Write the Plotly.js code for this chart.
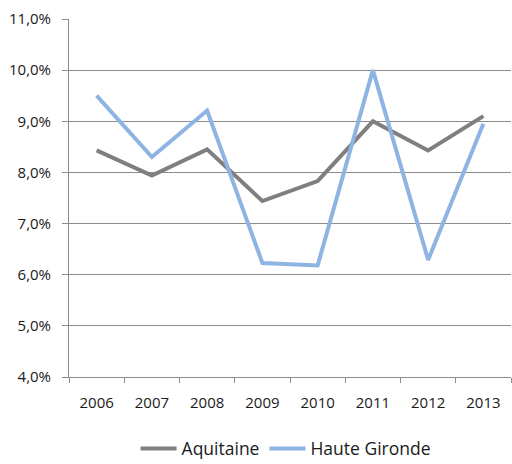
<!DOCTYPE html>
<html>
<head>
<meta charset="utf-8">
<script src="https://cdn.plot.ly/plotly-3.0.1.min.js"></script>
<style>html,body{margin:0;padding:0;background:#fff;}#chart{width:512px;height:464px;}</style>
</head>
<body>
<div id="chart"></div>
<script>
var years = ['2006','2007','2008','2009','2010','2011','2012','2013'];
var aquitaine = [8.43, 7.94, 8.45, 7.44, 7.83, 9.00, 8.43, 9.10];
var hauteGironde = [9.50, 8.30, 9.21, 6.23, 6.18, 10.0, 6.29, 8.95];
var seriesNames = ['Aquitaine', 'Haute Gironde'];

var traces = [
  {x: years, y: aquitaine, name: seriesNames[0], type: 'scatter', mode: 'lines',
   line: {color: '#7f7f7f', width: 4}},
  {x: years, y: hauteGironde, name: seriesNames[1], type: 'scatter', mode: 'lines',
   line: {color: '#8db4e2', width: 4}}
];

var layout = {
  width: 512, height: 464,
  margin: {l: 69, r: 1, t: 19, b: 87, autoexpand: false},
  paper_bgcolor: '#fff', plot_bgcolor: '#fff',
  separators: ', ',
  font: {family: 'Open Sans, sans-serif', size: 14, color: '#1a1a1a'},
  showlegend: true,
  legend: {orientation: 'h', x: 0.49, xanchor: 'center', xref: 'paper',
           y: -0.2, yanchor: 'middle', yref: 'paper',
           font: {size: 17.5, color: '#1a1a1a'}, itemwidth: 36, tracegroupgap: 0},
  xaxis: {type: 'category', range: [-0.5, 7.5], showgrid: false, showline: true, linecolor: '#8c8c8c', linewidth: 1,
          ticks: 'outside', tickson: 'boundaries', ticklen: 5, tickcolor: '#8c8c8c',
          ticklabelstandoff: 12, tickfont: {size: 15}, tickangle: 0, automargin: false, fixedrange: true},
  yaxis: {range: [4, 11], dtick: 1, tick0: 4, tickformat: '.1f', ticksuffix: '%',
          showgrid: true, gridcolor: '#8c8c8c', gridwidth: 1, zeroline: false,
          showline: true, linecolor: '#8c8c8c', linewidth: 1,
          ticks: 'outside', ticklen: 6, tickcolor: '#8c8c8c', ticklabelstandoff: 8,
          tickfont: {size: 15}, automargin: false, fixedrange: true}
};

Plotly.newPlot('chart', traces, layout, {staticPlot: true, displayModeBar: false});
</script>
</body>
</html>
